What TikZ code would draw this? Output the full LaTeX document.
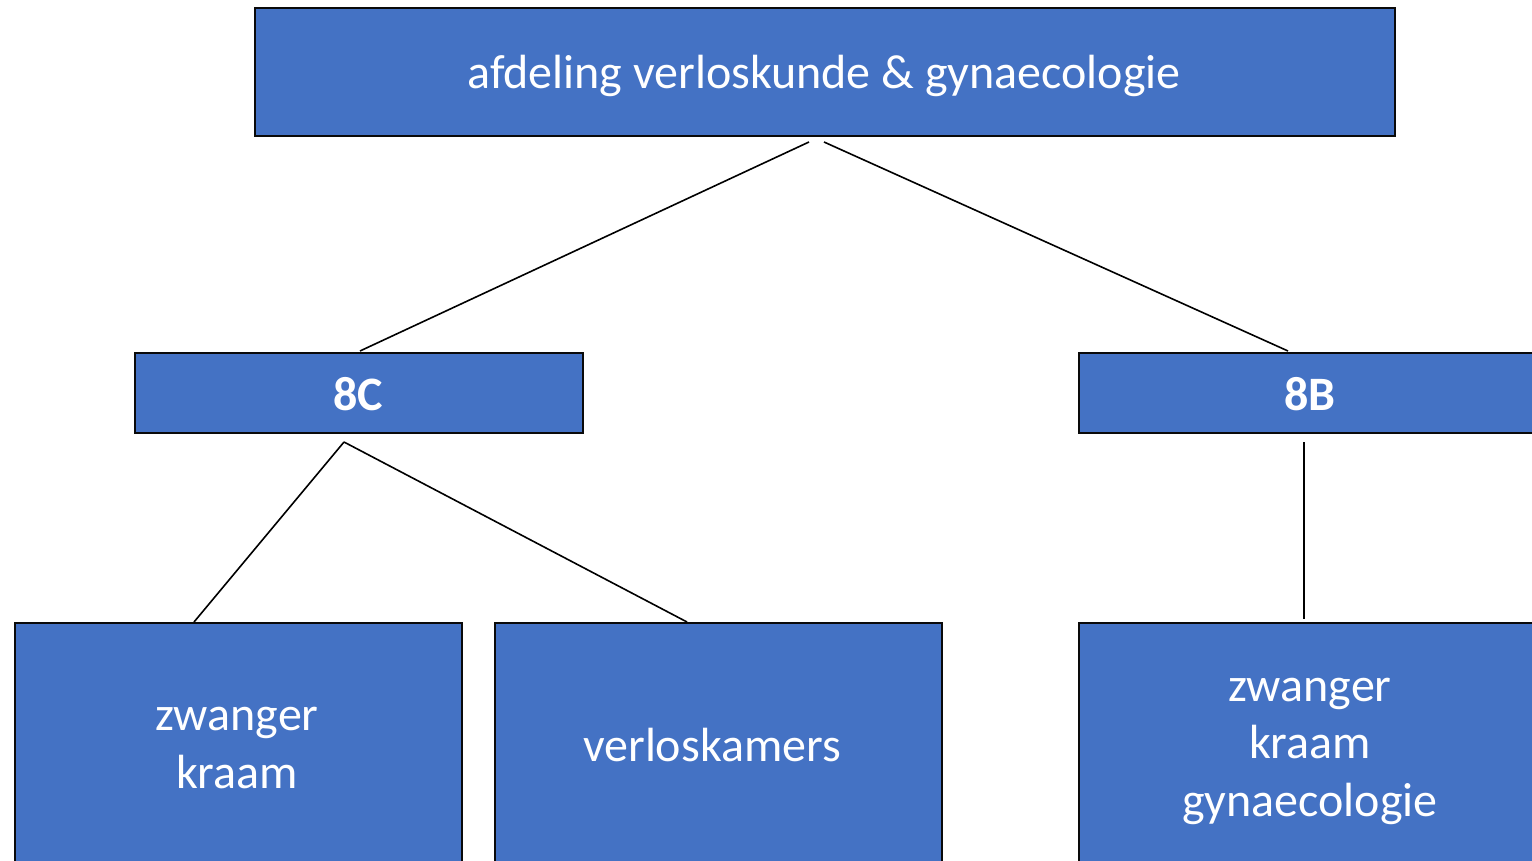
\documentclass[tikz,border=0pt]{standalone}
\usepackage{fontspec}
\setmainfont{Carlito}
\definecolor{boxblue}{HTML}{4472C4}
\definecolor{boxedge}{HTML}{0A0A0A}
\begin{document}
\begin{tikzpicture}[x=1pt,y=-1pt,
  orgbox/.style={draw=boxedge,line width=2.2pt,fill=boxblue,inner sep=0pt,anchor=north west},
  orgtext/.style={text=white,font=\fontsize{48}{57.5}\selectfont,align=center},
  link/.style={draw=black,line width=1.6pt}]
\useasboundingbox (0,0) rectangle (1532,861);
\begin{scope}
\clip (0,0) rectangle (1532,861);
% boxes
\node[orgbox,minimum width=1140pt,minimum height=128pt] (top) at (254,7) {};
\node[orgbox,minimum width=448pt,minimum height=80pt] (c8) at (134,352) {};
\node[orgbox,minimum width=464pt,minimum height=80pt] (b8) at (1078,352) {};
\node[orgbox,minimum width=447pt,minimum height=260pt] (zk) at (14,622) {};
\node[orgbox,minimum width=447pt,minimum height=260pt] (vk) at (494,622) {};
\node[orgbox,minimum width=464pt,minimum height=260pt] (zkg) at (1078,622) {};
% texts
\node[orgtext] (ttop) at (824,76) {afdeling verloskunde \& gynaecologie};
\node[orgtext,font=\fontsize{48}{57.5}\selectfont\bfseries] (t8c) at (358,394) {8C};
\node[orgtext,font=\fontsize{48}{57.5}\selectfont\bfseries] (t8b) at (1310,394) {8B};
\node[orgtext] (tzk) at (237,748) {zwanger\\kraam};
\node[orgtext] (tvk) at (712,745) {verloskamers};
\node[orgtext] (tzkg) at (1310,751) {zwanger\\kraam\\gynaecologie};
% connector end points
\coordinate (topL) at (809,142);
\coordinate (topR) at (824,142);
\coordinate (c8in) at (360,351);
\coordinate (b8in) at (1288,351);
\coordinate (c8out) at (344,442);
\coordinate (zkin) at (194,622);
\coordinate (vkin) at (687,622);
\coordinate (b8out) at (1304,442);
\coordinate (zkgin) at (1304,619);
\draw[link] (topL) -- (c8in);
\draw[link] (topR) -- (b8in);
\draw[link] (c8out) -- (zkin);
\draw[link] (c8out) -- (vkin);
\draw[link] (b8out) -- (zkgin);
\end{scope}
\end{tikzpicture}
\end{document}
